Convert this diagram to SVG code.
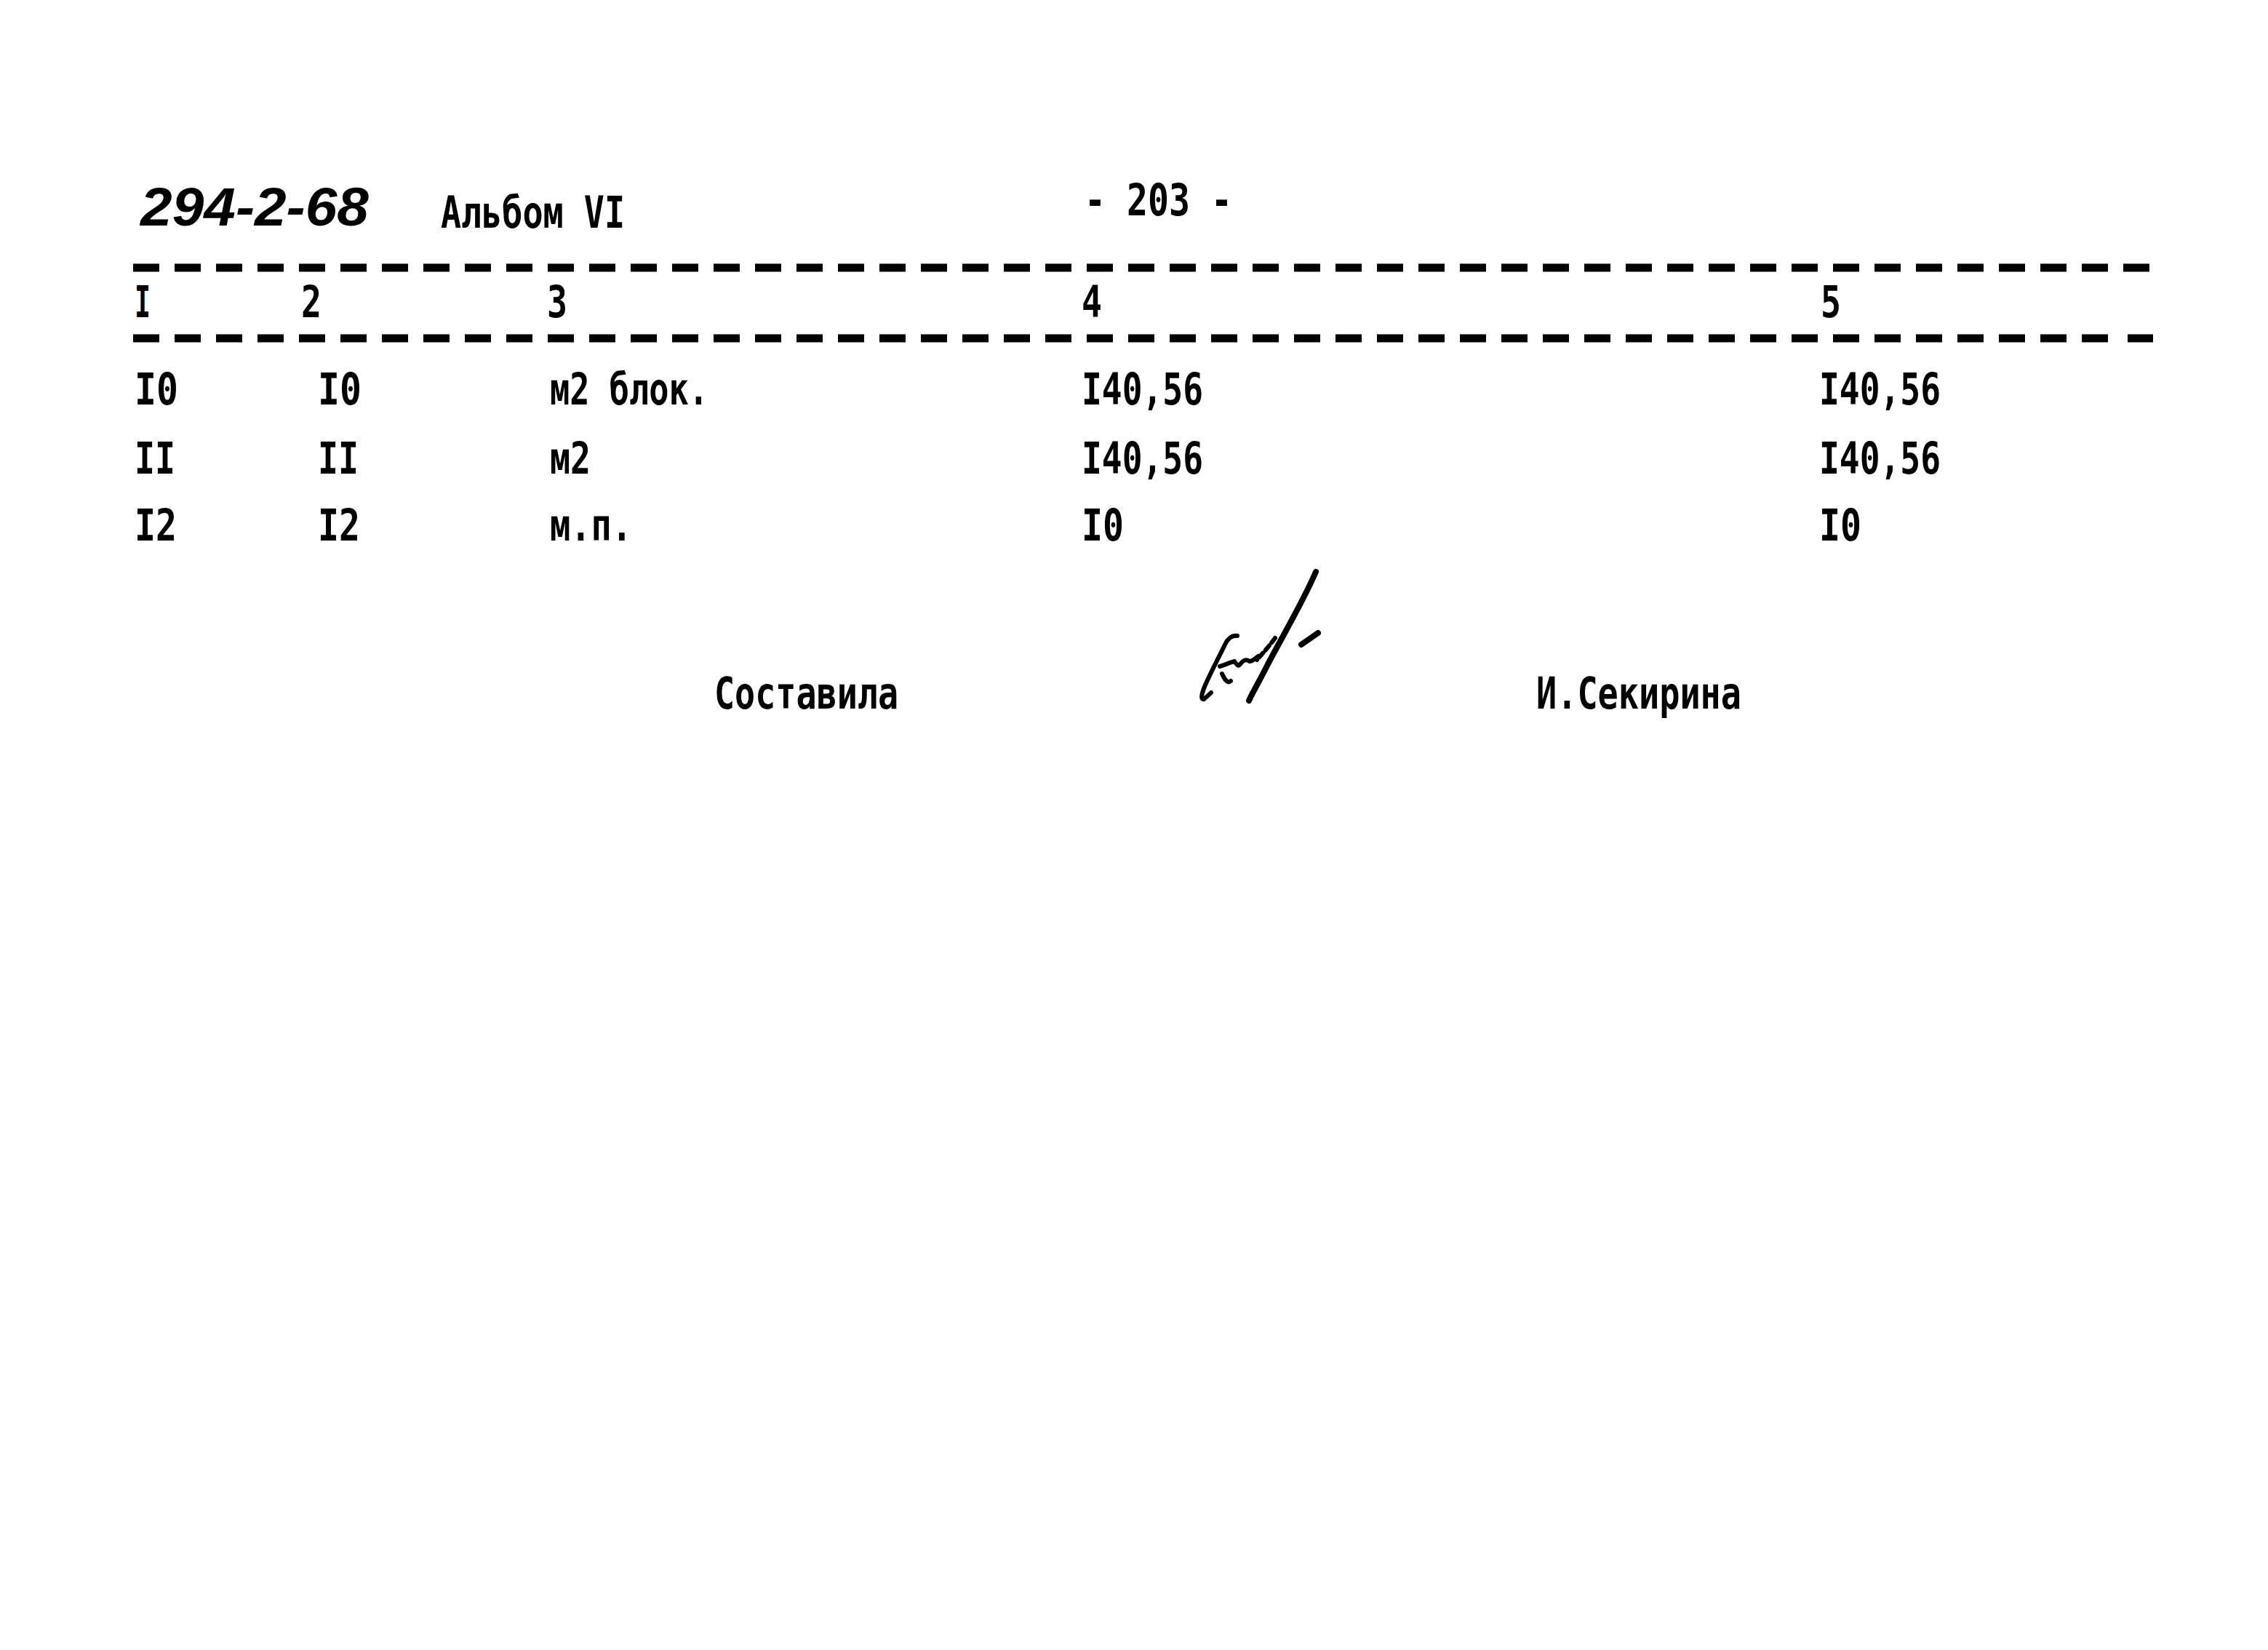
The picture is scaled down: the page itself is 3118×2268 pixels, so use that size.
<svg xmlns="http://www.w3.org/2000/svg" width="3118" height="2268" viewBox="0 0 3118 2268">
<style>
.t{font-family:"DejaVu Sans Mono","Liberation Mono",monospace;font-weight:bold;font-size:60px;fill:#000}
.h{font-family:"Liberation Sans",Arial,sans-serif;font-weight:bold;font-style:italic;font-size:74px;fill:#000}
.d{stroke:#000;stroke-width:11;stroke-dasharray:36 21;fill:none}
.s{stroke:#000;stroke-width:6;fill:none;stroke-linecap:round;stroke-linejoin:round}
</style>
<rect width="3118" height="2268" fill="#fff"/>
<g id="header">
<text class="h" x="193" y="310" textLength="314" lengthAdjust="spacingAndGlyphs">294-2-68</text>
<text class="t" x="606" y="313" textLength="253" lengthAdjust="spacingAndGlyphs">Альбом VI</text>
<text class="t" x="1491" y="296" textLength="203" lengthAdjust="spacingAndGlyphs">- 203 -</text>
</g>
<g id="rules">
<line class="d" x1="183" y1="368" x2="2960" y2="368"/>
<line class="d" x1="183" y1="465" x2="2900" y2="465"/>
<line class="d" x1="2925" y1="465" x2="2960" y2="465"/>
</g>
<g id="colhead">
<text class="t" x="185" y="436" textLength="22" lengthAdjust="spacingAndGlyphs">I</text>
<text class="t" x="414" y="436" textLength="28" lengthAdjust="spacingAndGlyphs">2</text>
<text class="t" x="752" y="436" textLength="28" lengthAdjust="spacingAndGlyphs">3</text>
<text class="t" x="1487" y="436" textLength="28" lengthAdjust="spacingAndGlyphs">4</text>
<text class="t" x="2503" y="436" textLength="28" lengthAdjust="spacingAndGlyphs">5</text>
</g>
<g id="row10">
<text class="t" x="185" y="556" textLength="60" lengthAdjust="spacingAndGlyphs">I0</text>
<text class="t" x="437" y="556" textLength="60" lengthAdjust="spacingAndGlyphs">I0</text>
<text class="t" x="756" y="556" textLength="218" lengthAdjust="spacingAndGlyphs">м2 блок.</text>
<text class="t" x="1487" y="556" textLength="167" lengthAdjust="spacingAndGlyphs">I40,56</text>
<text class="t" x="2501" y="556" textLength="167" lengthAdjust="spacingAndGlyphs">I40,56</text>
</g>
<g id="row11">
<text class="t" x="185" y="651" textLength="56" lengthAdjust="spacingAndGlyphs">II</text>
<text class="t" x="437" y="651" textLength="56" lengthAdjust="spacingAndGlyphs">II</text>
<text class="t" x="756" y="651" textLength="56" lengthAdjust="spacingAndGlyphs">м2</text>
<text class="t" x="1487" y="651" textLength="167" lengthAdjust="spacingAndGlyphs">I40,56</text>
<text class="t" x="2501" y="651" textLength="167" lengthAdjust="spacingAndGlyphs">I40,56</text>
</g>
<g id="row12">
<text class="t" x="185" y="743" textLength="58" lengthAdjust="spacingAndGlyphs">I2</text>
<text class="t" x="437" y="743" textLength="58" lengthAdjust="spacingAndGlyphs">I2</text>
<text class="t" x="756" y="743" textLength="113" lengthAdjust="spacingAndGlyphs">м.п.</text>
<text class="t" x="1487" y="743" textLength="58" lengthAdjust="spacingAndGlyphs">I0</text>
<text class="t" x="2501" y="743" textLength="58" lengthAdjust="spacingAndGlyphs">I0</text>
</g>
<g id="signoff">
<text class="t" x="982" y="974" textLength="253" lengthAdjust="spacingAndGlyphs">Составила</text>
<text class="t" x="2112" y="974" textLength="282" lengthAdjust="spacingAndGlyphs">И.Секирина</text>
</g>
<g id="signature">
<path class="s" style="stroke-width:8" d="M1809 786 C1790 830 1760 880 1742 915 C1732 935 1722 952 1717 963"/>
<path class="s" d="M1701 874 C1694 873 1688 878 1684 886 C1676 903 1664 925 1656 944 C1651 956 1651 962 1655 961 C1659 958 1662 955 1665 952"/>
<path class="s" d="M1677 916 C1684 914 1692 910 1697 909 C1700 913 1702 917 1705 913 C1708 909 1712 906 1716 908 C1720 911 1724 906 1730 902"/>
<path class="s" d="M1680 926 C1684 935 1688 940 1692 936"/>
<path class="s" style="stroke-dasharray:8 5" d="M1753 877 C1745 888 1736 898 1728 907"/>
<path class="s" style="stroke-width:8" d="M1812 870 L1789 886"/>
</g>
</svg>
